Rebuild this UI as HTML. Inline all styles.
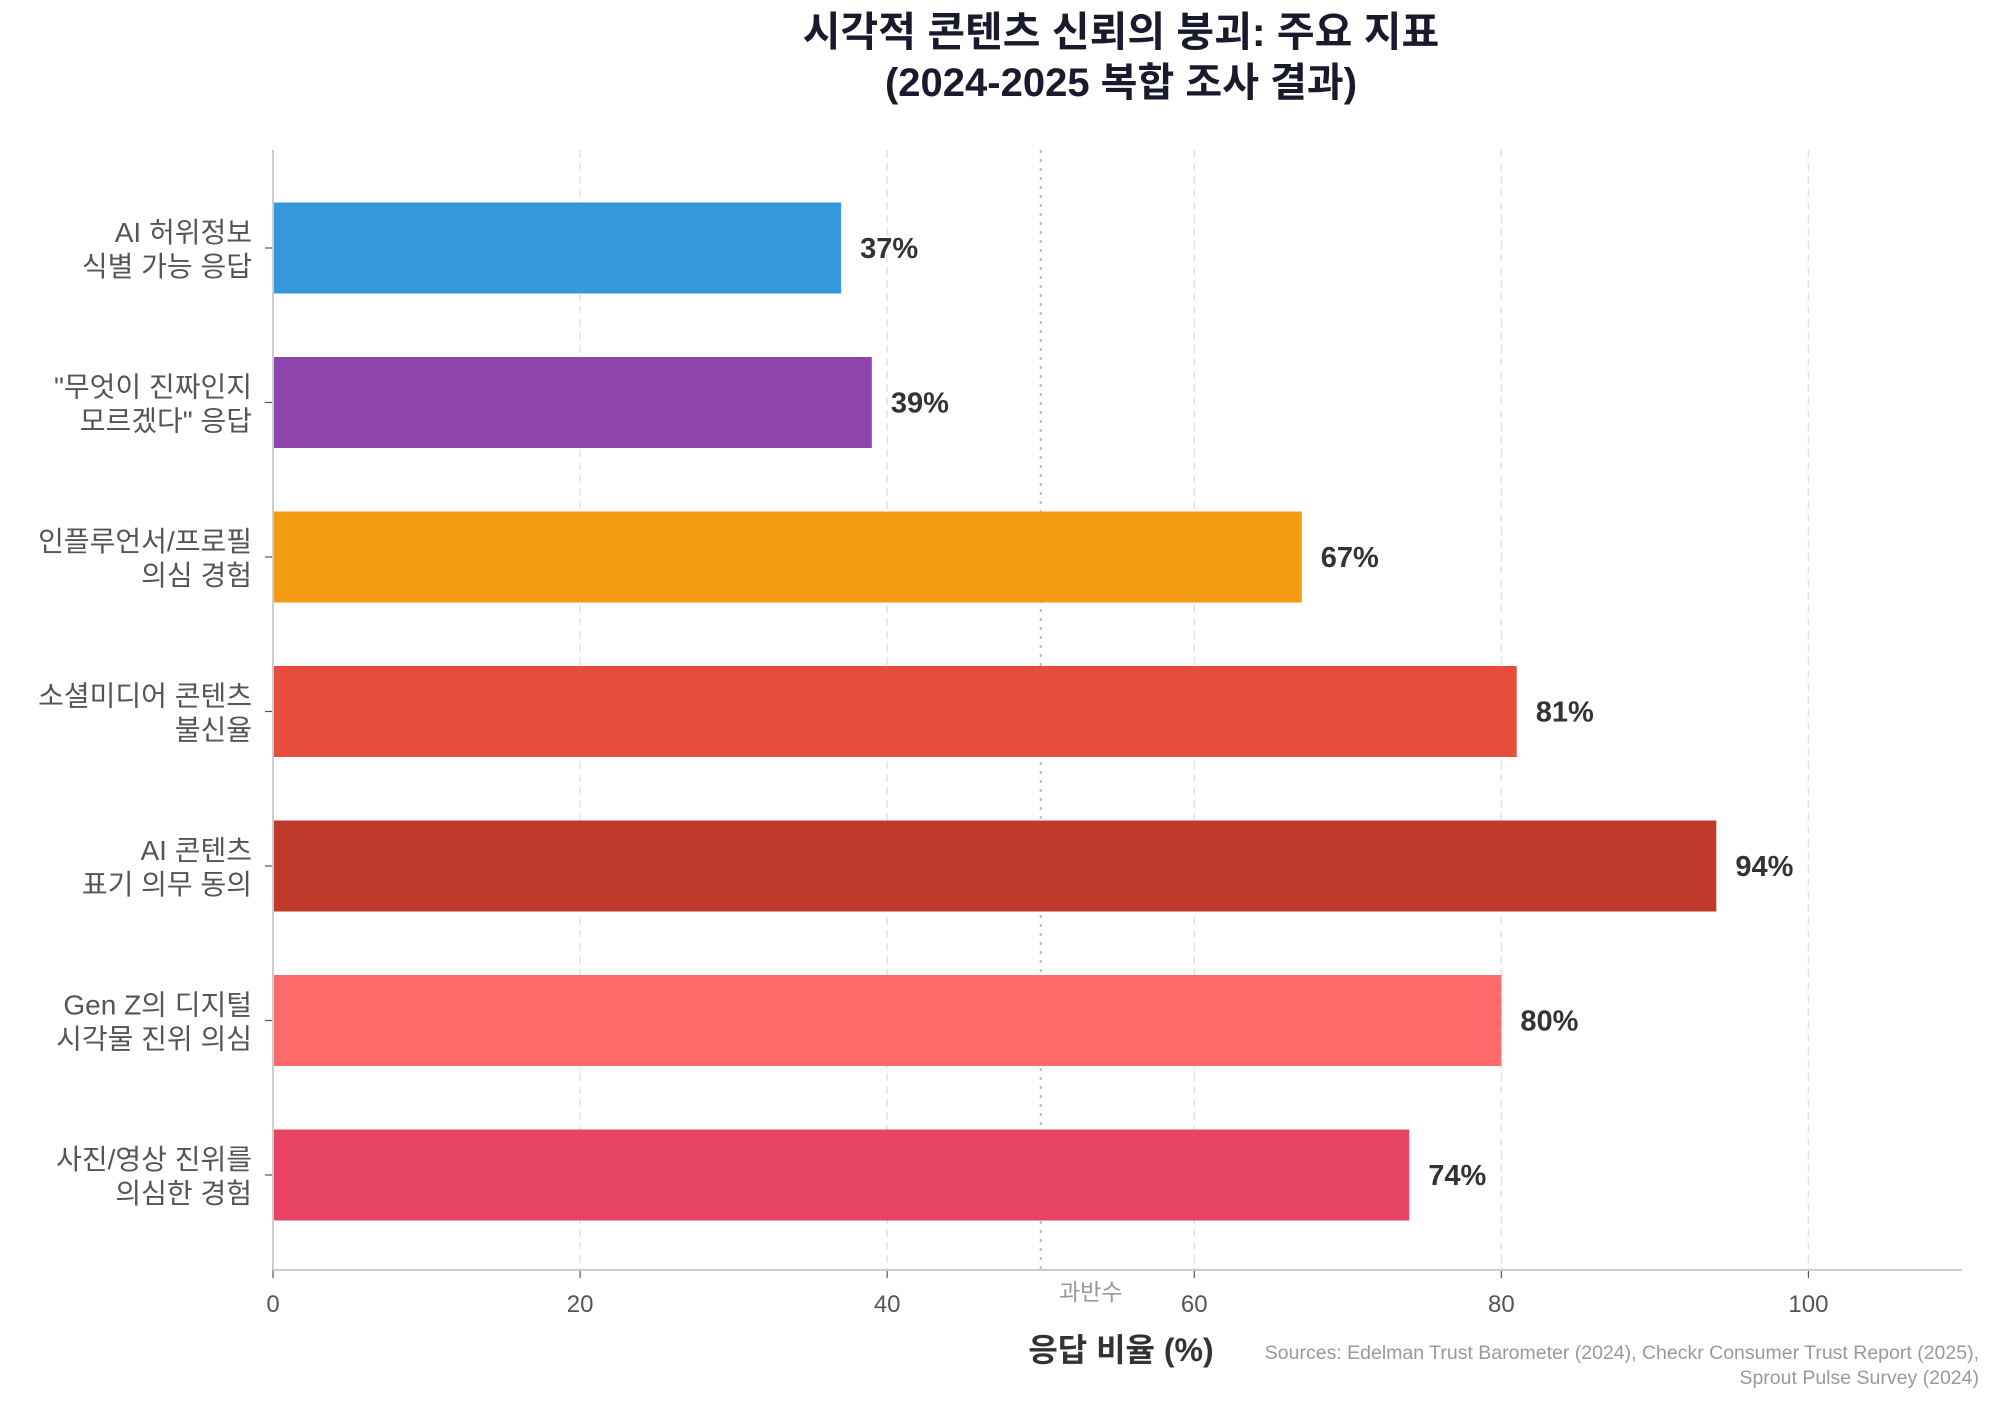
<!DOCTYPE html>
<html><head><meta charset="utf-8">
<style>
html,body{margin:0;padding:0;background:#fff;}
svg{display:block;font-family:"Liberation Sans","Noto Sans CJK KR",sans-serif;}
</style></head>
<body>
<svg id="chart" width="1989" height="1402" viewBox="0 0 1989 1402" xmlns="http://www.w3.org/2000/svg">
<rect width="1989" height="1402" fill="#fff"/>
<g id="grid"></g>
<g id="bars"></g>
<g id="axes"></g>
<text x="1121" y="46" text-anchor="middle" font-size="41" font-weight="bold" fill="#1a1a2e">시각적 콘텐츠 신뢰의 붕괴: 주요 지표</text>
<text x="1121" y="96" text-anchor="middle" font-size="40" font-weight="bold" fill="#1a1a2e">(2024-2025 복합 조사 결과)</text>
<text x="1121" y="1361" text-anchor="middle" font-size="32" font-weight="bold" fill="#333">응답 비율 (%)</text>
<text x="1979" y="1359" text-anchor="end" font-size="19.5" fill="#999">Sources: Edelman Trust Barometer (2024), Checkr Consumer Trust Report (2025),</text>
<text x="1979" y="1384" text-anchor="end" font-size="19.5" fill="#999">Sprout Pulse Survey (2024)</text>
</svg>
<script>
const categories = [
  ["AI 허위정보","식별 가능 응답"],
  ["\"무엇이 진짜인지","모르겠다\" 응답"],
  ["인플루언서/프로필","의심 경험"],
  ["소셜미디어 콘텐츠","불신율"],
  ["AI 콘텐츠","표기 의무 동의"],
  ["Gen Z의 디지털","시각물 진위 의심"],
  ["사진/영상 진위를","의심한 경험"]
];
const values = [37, 39, 67, 81, 94, 80, 74];
const colors = ["#3498db","#8e44ad","#f39c12","#e74c3c","#c0392b","#ff6b6b","#e84363"];
const xTicks = [0, 20, 40, 60, 80, 100];
const majorityLine = 50;

const NS = "http://www.w3.org/2000/svg";
const x0 = 273, x1 = 1962, xMax = 110;
const yTop = 150, yBot = 1270;
const firstCenter = 248, step = 154.5, barH = 91;
function xs(v){ return x0 + (v / xMax) * (x1 - x0); }
function yc(i){ return firstCenter + i * step; }
function mk(tag, attrs, parent){
  const e = document.createElementNS(NS, tag);
  for (const k in attrs) e.setAttribute(k, attrs[k]);
  parent.appendChild(e);
  return e;
}
const grid = document.getElementById('grid');
const bars = document.getElementById('bars');
const axes = document.getElementById('axes');

xTicks.forEach(t => {
  if (t > 0) {
    const g = mk('line', {x1: xs(t), x2: xs(t), y1: yTop, y2: yBot, stroke: '#e3e3e3', 'stroke-width': 1.5, 'stroke-dasharray': '8,5'}, grid);
    
    
  }
  const tk = mk('line', {x1: xs(t), x2: xs(t), y1: yBot, y2: yBot + 8, stroke: '#555', 'stroke-width': 1.2}, axes);
  
  
  const tl = mk('text', {x: xs(t), y: yBot + 42, 'text-anchor': 'middle', 'font-size': 24, fill: '#555'}, axes);
  tl.textContent = t;
  
  
});

const ml = mk('line', {x1: xs(majorityLine), x2: xs(majorityLine), y1: yTop, y2: yBot, stroke: '#bbb', 'stroke-width': 2, 'stroke-dasharray': '3,6'}, grid);


const mt = mk('text', {x: xs(majorityLine) + 50, y: 1300, 'text-anchor': 'middle', 'font-size': 23, fill: '#999'}, axes);
mt.textContent = '과반수';



values.forEach((v, i) => {
  const r = mk('rect', {x: xs(0), y: yc(i) - barH / 2, width: xs(v) - xs(0), height: barH, fill: colors[i]}, bars);
  
  
  const vl = mk('text', {x: xs(v) + 19, y: yc(i) + 10, 'font-size': 29, 'font-weight': 'bold', fill: '#333'}, bars);
  vl.textContent = v + '%';
  
  
  const tk = mk('line', {x1: x0 - 8, x2: x0, y1: yc(i), y2: yc(i), stroke: '#555', 'stroke-width': 1.2}, axes);
  
  
  categories[i].forEach((line, j) => {
    const cl = mk('text', {x: 252, y: yc(i) - 6 + j * 34, 'text-anchor': 'end', 'font-size': 28, fill: '#555'}, axes);
    cl.textContent = line;
    
    
  });
});

const la = mk('line', {x1: x0, x2: x0, y1: yTop, y2: yBot, stroke: '#ccc', 'stroke-width': 2}, axes);


const ba = mk('line', {x1: x0, x2: x1, y1: yBot, y2: yBot, stroke: '#ccc', 'stroke-width': 2}, axes);


</script>
</body></html>
